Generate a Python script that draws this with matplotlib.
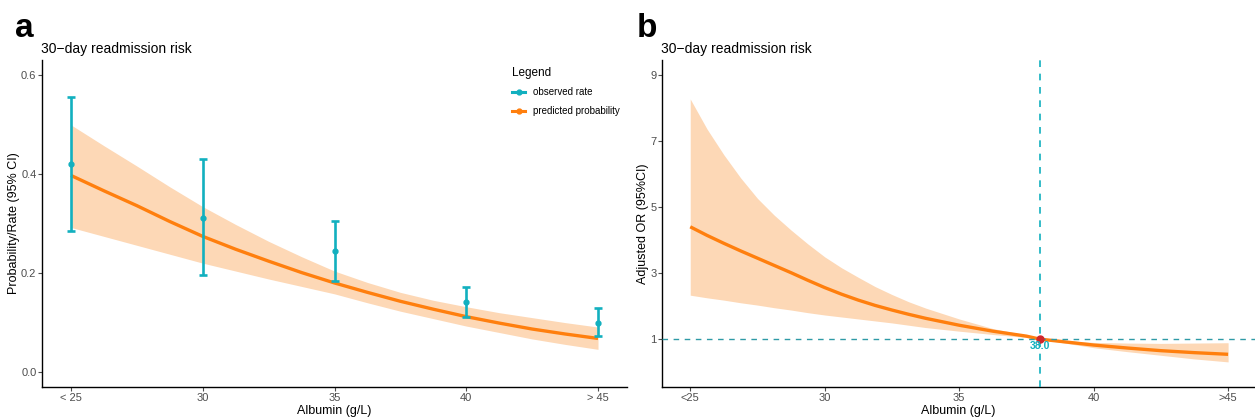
import numpy as np
import matplotlib
matplotlib.use("Agg")
import matplotlib.pyplot as plt
from matplotlib.lines import Line2D

plt.rcParams['font.family'] = ['Liberation Sans', 'DejaVu Sans']

# ---- panel a data ----
obs_x = [25, 30, 35, 40, 45]
obs_rate = [0.420, 0.312, 0.245, 0.141, 0.100]
obs_lo = [0.285, 0.197, 0.184, 0.112, 0.072]
obs_hi = [0.556, 0.430, 0.306, 0.171, 0.129]

pred_x = [25, 26.25, 27.5, 28.75, 30, 31.25, 32.5, 33.75, 35, 36.25, 37.5, 38.75, 40, 41.25, 42.5, 43.75, 45]
pred_p = [0.397, 0.366, 0.336, 0.304, 0.274, 0.248, 0.224, 0.201, 0.180, 0.161, 0.143, 0.127, 0.112, 0.099, 0.087, 0.077, 0.068]
pred_lo = [0.292, 0.274, 0.256, 0.238, 0.220, 0.204, 0.188, 0.173, 0.158, 0.140, 0.123, 0.108, 0.093, 0.080, 0.067, 0.056, 0.046]
pred_hi = [0.499, 0.457, 0.416, 0.374, 0.334, 0.298, 0.264, 0.233, 0.204, 0.181, 0.161, 0.145, 0.132, 0.120, 0.110, 0.100, 0.091]

a_xticks = [25, 30, 35, 40, 45]
a_xlabels = ["< 25", "30", "35", "40", "> 45"]
a_yticks = [0.0, 0.2, 0.4, 0.6]

# ---- panel b data ----
or_x = [25, 25.625, 26.25, 26.875, 27.5, 28.125, 28.75, 29.375, 30, 30.625, 31.25, 31.875,
        32.5, 33.125, 33.75, 35, 36.25, 37.5, 38, 39, 40, 41.25, 42.5, 43.75, 45]
or_val = [4.40, 4.14, 3.90, 3.67, 3.45, 3.23, 3.01, 2.78, 2.56, 2.36, 2.18, 2.02,
          1.88, 1.75, 1.63, 1.42, 1.24, 1.09, 1.00, 0.91, 0.82, 0.73, 0.65, 0.59, 0.54]
or_lo = [2.33, 2.25, 2.18, 2.10, 2.03, 1.95, 1.88, 1.80, 1.73, 1.67, 1.61, 1.55,
         1.49, 1.42, 1.35, 1.24, 1.14, 1.05, 1.00, 0.87, 0.74, 0.62, 0.51, 0.40, 0.31]
or_hi = [8.27, 7.36, 6.58, 5.88, 5.26, 4.75, 4.30, 3.88, 3.49, 3.16, 2.87, 2.59,
         2.35, 2.13, 1.94, 1.61, 1.32, 1.12, 1.00, 0.95, 0.90, 0.88, 0.87, 0.88, 0.89]
cutoff = 38.0

b_xticks = [25, 30, 35, 40, 45]
b_xlabels = ["<25", "30", "35", "40", ">45"]
b_yticks = [1, 3, 5, 7, 9]

CYAN = "#12B0BF"
ORANGE = "#FF7F0E"
BAND = "#FDD8B6"
RED = "#D0262C"
TICKGREY = "#4D4D4D"

W, H = 1255, 419
fig = plt.figure(figsize=(W / 100, H / 100), dpi=100)

def px_axes(l, r, t, b):
    return fig.add_axes([l / W, (H - b) / H, (r - l) / W, (b - t) / H])

def style(ax):
    for s in ["top", "right"]:
        ax.spines[s].set_visible(False)
    for s in ["left", "bottom"]:
        ax.spines[s].set_linewidth(1.0)
        ax.spines[s].set_color("black")
    ax.tick_params(length=3, width=0.8, color=TICKGREY, labelcolor=TICKGREY,
                   labelsize=8, pad=1)

# ---------------- panel a ----------------
ax1 = px_axes(42, 627, 60, 387)
style(ax1)
ax1.fill_between(pred_x, pred_lo, pred_hi, color=BAND, lw=0, zorder=1)
ax1.plot(pred_x, pred_p, color=ORANGE, lw=2.4, zorder=2, solid_capstyle="butt")
yerr = [np.array(obs_rate) - np.array(obs_lo), np.array(obs_hi) - np.array(obs_rate)]
ax1.errorbar(obs_x, obs_rate, yerr=yerr, fmt="o", color=CYAN, ms=3.5,
             elinewidth=1.9, capsize=2.8, capthick=1.9, zorder=3)
ax1.set_xlim(23.9, 46.1)
ax1.set_ylim(-0.03, 0.63)
ax1.set_xticks(a_xticks)
ax1.set_xticklabels(a_xlabels)
ax1.set_yticks(a_yticks)
ax1.set_yticklabels([f"{v:.1f}" for v in a_yticks])
ax1.set_xlabel("Albumin (g/L)", fontsize=9, labelpad=1.5)
ax1.set_ylabel("Probability/Rate (95% CI)", fontsize=9, labelpad=1)
ax1.set_title("30\u2212day readmission risk", fontsize=10, loc="left", pad=5, x=-0.002)

handles = [
    Line2D([0], [0], color=CYAN, lw=2.2, marker="o", ms=3.5),
    Line2D([0], [0], color=ORANGE, lw=2.2, marker="o", ms=3.5),
]
leg = ax1.legend(handles, ["observed rate", "predicted probability"], title="Legend",
                 loc="upper left", bbox_to_anchor=(503 / W, (H - 58) / H),
                 bbox_transform=fig.transFigure, frameon=False, fontsize=7,
                 title_fontsize=8.5, handlelength=1.4, handletextpad=0.75,
                 labelspacing=0.9, alignment="left")

# ---------------- panel b ----------------
ax2 = px_axes(662, 1255, 60, 387)
style(ax2)
ax2.fill_between(or_x, or_lo, or_hi, color=BAND, lw=0, zorder=1)
ax2.plot(or_x, or_val, color=ORANGE, lw=2.4, zorder=2, solid_capstyle="butt")
ax2.axhline(1, color="#2E9AA6", lw=1.0, ls=(0, (4, 4)), zorder=3)
ax2.axvline(cutoff, color=CYAN, lw=1.2, ls=(0, (4, 4)), zorder=3)
ax2.plot([cutoff], [1], "o", color=RED, ms=5, zorder=4)
ax2.annotate(f"{cutoff:.1f}", (cutoff, 1), xytext=(0, -1.5), textcoords="offset points",
             ha="center", va="top", color=CYAN, fontsize=7.5, fontweight="bold", zorder=4)
ax2.set_xlim(23.95, 46.0)
ax2.set_ylim(-0.45, 9.45)
ax2.set_xticks(b_xticks)
ax2.set_xticklabels(b_xlabels)
ax2.set_yticks(b_yticks)
ax2.set_xlabel("Albumin (g/L)", fontsize=9, labelpad=1.5)
ax2.set_ylabel("Adjusted OR (95%CI)", fontsize=9, labelpad=1)
ax2.set_title("30\u2212day readmission risk", fontsize=10, loc="left", pad=5, x=-0.002)

fig.text(15 / W, (H - 37) / H, "a", fontsize=24, fontweight="bold")
fig.text(637 / W, (H - 37) / H, "b", fontsize=24, fontweight="bold")

fig.savefig("out.png", dpi=100)
